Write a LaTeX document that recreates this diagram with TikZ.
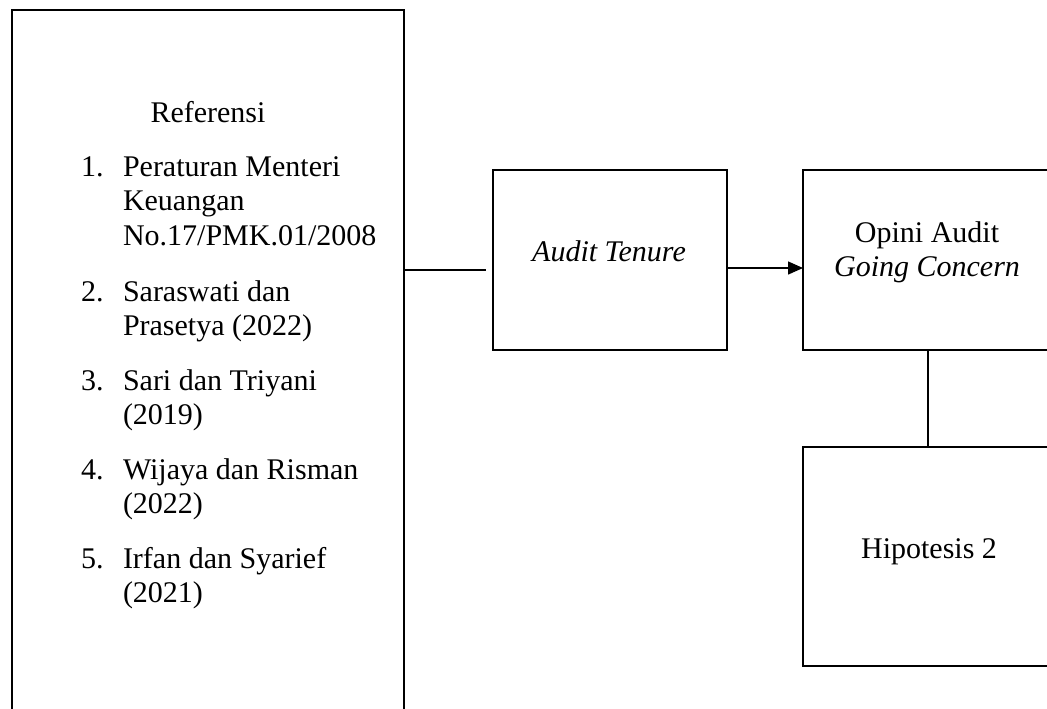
\documentclass[tikz,border=0pt]{standalone}
\usepackage{fontspec}
\setmainfont{Liberation Serif}
\usetikzlibrary{arrows.meta}
\tikzset{
  frame/.style={draw=black, line width=1pt, inner sep=0pt, outer sep=0pt},
  txt/.style={inner sep=0pt, outer sep=0pt, font=\fontsize{15pt}{17.25pt}\selectfont},
  conn/.style={draw=black, line width=0.7pt},
  arrowconn/.style={conn, -{Triangle[length=7.5pt,width=6.5pt]}}
}
\begin{document}
\begin{tikzpicture}[x=0.5pt, y=-0.5pt]
\useasboundingbox (0,0) rectangle (1047,708);
\clip (0,0) rectangle (1047,708);
\fill[white] (0,0) rectangle (1047,708);

% boxes
\node[frame, minimum width=196pt, minimum height=360pt] (refbox) at (208,370) {};
\node[frame, minimum width=117pt, minimum height=90pt] (atbox) at (610,260) {};
\node[frame, minimum width=133.5pt, minimum height=90pt] (opbox) at (936.5,260) {};
\node[frame, minimum width=133.5pt, minimum height=109.5pt] (hbox) at (936.5,556.5) {};

% left box text
\node[txt, anchor=base] (reftitle) at (208,122) {Referensi};
\node[txt, anchor=base west] (n1) at (81,176) {1.};
\node[txt, anchor=base west] (i1a) at (123,176) {Peraturan Menteri};
\node[txt, anchor=base west] (i1b) at (123,210.5) {Keuangan};
\node[txt, anchor=base west] (i1c) at (123,245) {No.17/PMK.01/2008};
\node[txt, anchor=base west] (n2) at (81,301) {2.};
\node[txt, anchor=base west] (i2a) at (123,301) {Saraswati dan};
\node[txt, anchor=base west] (i2b) at (123,335.5) {Prasetya (2022)};
\node[txt, anchor=base west] (n3) at (81,390) {3.};
\node[txt, anchor=base west] (i3a) at (123,390) {Sari dan Triyani};
\node[txt, anchor=base west] (i3b) at (123,424.5) {(2019)};
\node[txt, anchor=base west] (n4) at (81,479) {4.};
\node[txt, anchor=base west] (i4a) at (123,479) {Wijaya dan Risman};
\node[txt, anchor=base west] (i4b) at (123,513.5) {(2022)};
\node[txt, anchor=base west] (n5) at (81,568) {5.};
\node[txt, anchor=base west] (i5a) at (123,568) {Irfan dan Syarief};
\node[txt, anchor=base west] (i5b) at (123,602.5) {(2021)};

% other texts
\node[txt, anchor=base] (attext) at (609,261) {\textit{Audit Tenure}};
\node[txt, anchor=base] (optext1) at (927,242) {Opini Audit};
\node[txt, anchor=base] (optext2) at (927,276.5) {\textit{Going Concern}};
\node[txt, anchor=base] (htext) at (929,558) {Hipotesis 2};

% connectors
\coordinate (c1) at (486,270);
\draw[conn] (refbox.east |- c1) -- (c1);
\coordinate (c2) at (0,268);
\draw[arrowconn] (atbox.east |- c2) -- (opbox.west |- c2);
\coordinate (c3) at (928,0);
\draw[conn] (opbox.south -| c3) -- (hbox.north -| c3);
\end{tikzpicture}
\end{document}
